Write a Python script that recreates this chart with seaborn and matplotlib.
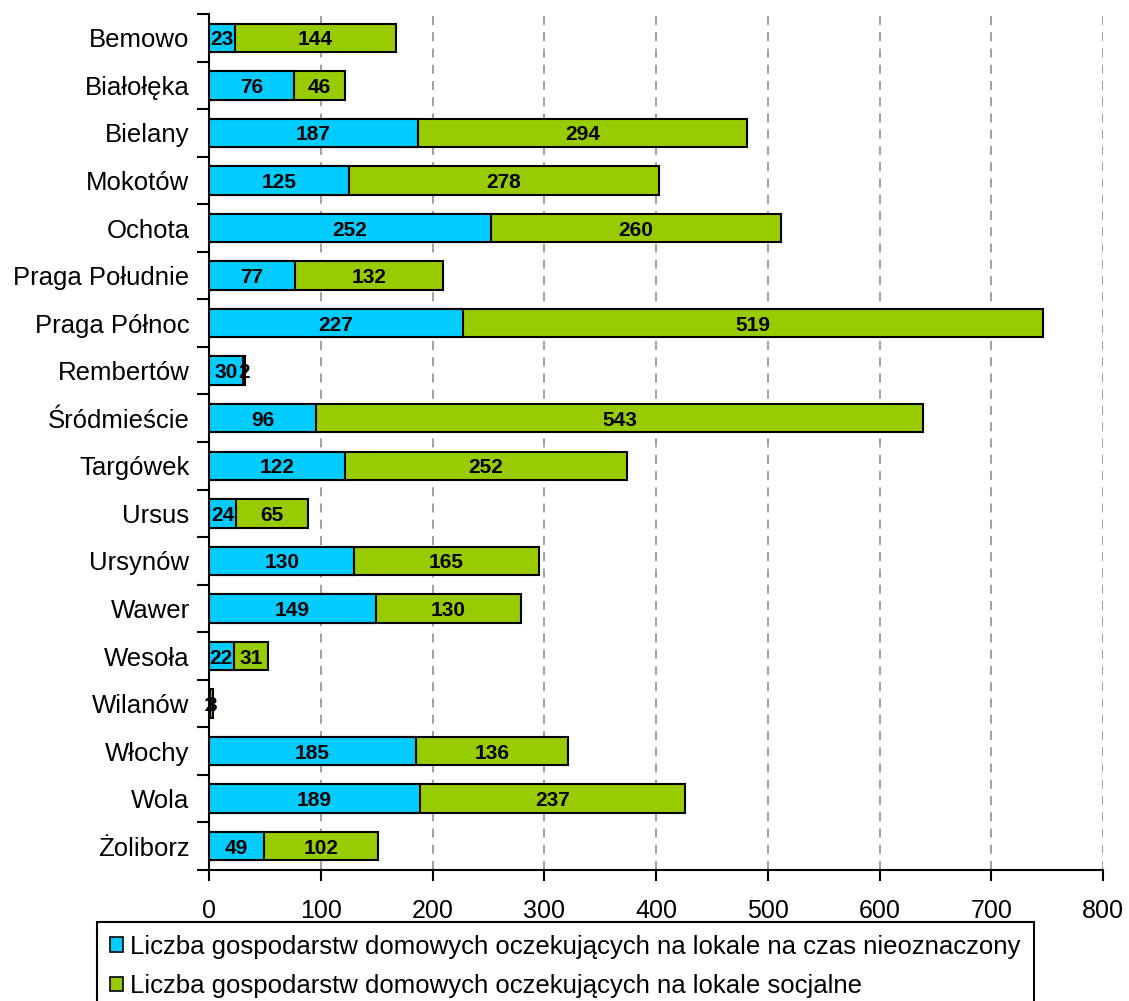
import matplotlib
matplotlib.use("Agg")
import matplotlib.pyplot as plt
from matplotlib.patches import Patch
from matplotlib.ticker import FixedLocator
import seaborn as sns
import pandas as pd

districts = ["Bemowo", "Białołęka", "Bielany", "Mokotów", "Ochota", "Praga Południe",
             "Praga Północ", "Rembertów", "Śródmieście", "Targówek", "Ursus", "Ursynów",
             "Wawer", "Wesoła", "Wilanów", "Włochy", "Wola", "Żoliborz"]
indefinite = [23, 76, 187, 125, 252, 77, 227, 30, 96, 122, 24, 130, 149, 22, 1, 185, 189, 49]
social = [144, 46, 294, 278, 260, 132, 519, 2, 543, 252, 65, 165, 130, 31, 3, 136, 237, 102]
x_ticks = [0, 100, 200, 300, 400, 500, 600, 700, 800]
legend_labels = ["Liczba gospodarstw domowych oczekujących na lokale na czas nieoznaczony",
                 "Liczba gospodarstw domowych oczekujących na lokale socjalne"]

blue = "#00CCFF"
green = "#99CC00"

df = pd.DataFrame({"district": districts, "indefinite": indefinite, "social": social})
df["total"] = df["indefinite"] + df["social"]

sns.set_style("white")
plt.rcParams["font.family"] = ["Liberation Sans", "DejaVu Sans"]
plt.rcParams["text.color"] = "black"
plt.rcParams["xtick.color"] = "black"
plt.rcParams["ytick.color"] = "black"

fig = plt.figure(figsize=(11.29, 10.01), dpi=100)
ax = fig.add_axes([209 / 1129, 1 - 870 / 1001, (1103 - 209) / 1129, (870 - 14) / 1001])

# stacked bars: full total in green, indefinite segment drawn over it in blue
sns.barplot(data=df, x="total", y="district", orient="h", color=green, saturation=1,
            width=0.6, edgecolor="black", linewidth=1.5, ax=ax, zorder=3)
sns.barplot(data=df, x="indefinite", y="district", orient="h", color=blue, saturation=1,
            width=0.6, edgecolor="black", linewidth=1.5, ax=ax, zorder=4)

# segment value labels
for i, (a, b) in enumerate(zip(df["indefinite"], df["social"])):
    ax.text(a / 2, i, str(a), ha="center", va="center_baseline", fontsize=15,
            fontweight="bold", color="black", zorder=6)
    ax.text(a + b / 2, i, str(b), ha="center", va="center_baseline", fontsize=15,
            fontweight="bold", color="black", zorder=6)

ax.set_xlim(0, 800)
ax.set_ylim(len(districts) - 0.5, -0.5)
ax.set_xticks(x_ticks)
ax.set_xticklabels([str(t) for t in x_ticks], fontsize=18)
ax.set_xlabel("")
ax.set_ylabel("")
ax.tick_params(axis="y", which="major", length=0, pad=14, labelsize=18.5)
ax.yaxis.set_minor_locator(FixedLocator([i - 0.5 for i in range(len(districts) + 1)]))
ax.tick_params(axis="y", which="minor", length=9, width=1.5, direction="out", left=True)
ax.tick_params(axis="x", which="major", length=8, width=1.5, direction="out",
               bottom=True, pad=13)

for t in x_ticks[1:]:
    ax.axvline(t, color="#999999", linestyle=(0, (5, 4)), linewidth=1.3, zorder=1)

for side in ["top", "right"]:
    ax.spines[side].set_visible(False)
for side in ["left", "bottom"]:
    ax.spines[side].set_color("black")
    ax.spines[side].set_linewidth(1.5)

handles = [Patch(facecolor=blue, edgecolor="black", linewidth=1.2),
           Patch(facecolor=green, edgecolor="black", linewidth=1.2)]
leg = fig.legend(handles, legend_labels, loc="upper left",
                 bbox_to_anchor=(97 / 1129, 1 - 922 / 1001), borderaxespad=0,
                 frameon=True, fancybox=False, edgecolor="black", framealpha=1,
                 handlelength=0.5, handleheight=0.5, handletextpad=0.3,
                 labelspacing=0.6, borderpad=0.5,
                 prop={"family": ["Liberation Sans"], "size": 18.5})
leg.get_frame().set_linewidth(1.5)

fig.savefig("out.png", dpi=100)
